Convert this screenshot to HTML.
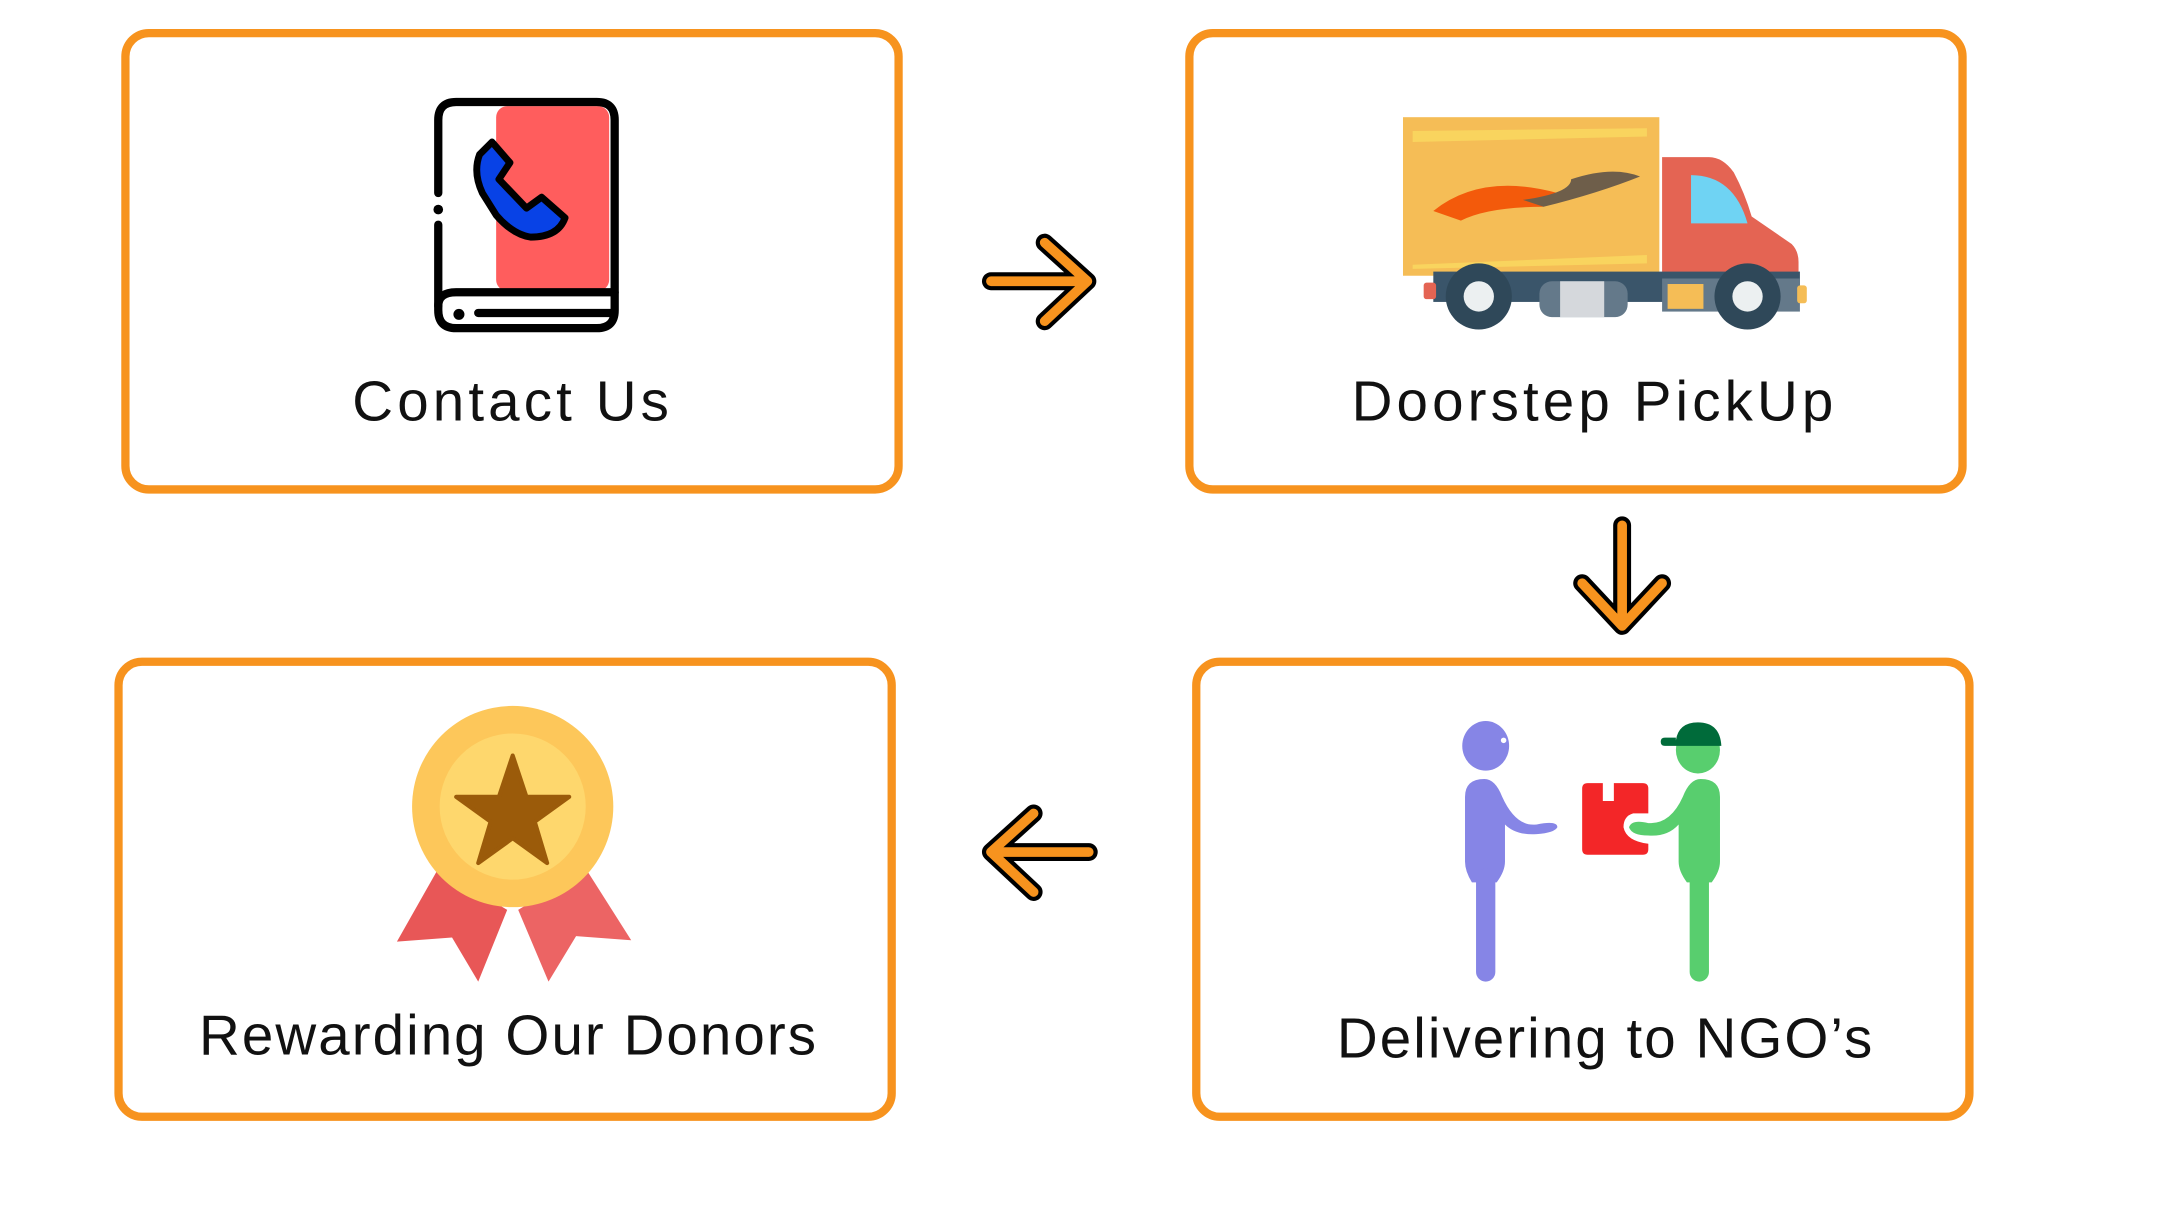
<!DOCTYPE html>
<html><head><meta charset="utf-8"><style>
html,body{margin:0;padding:0;background:#fff;}
svg{display:block;}
text{font-family:"Liberation Sans",sans-serif;fill:#111;}
</style></head><body>
<svg width="2161" height="1216" viewBox="0 0 1568 882" preserveAspectRatio="none" xmlns="http://www.w3.org/2000/svg">
<rect width="1568" height="882" fill="#fff"/>
<g fill="none" stroke="#F7931E" stroke-width="6">
<rect x="91" y="24" width="561" height="331" rx="17"/>
<rect x="863" y="24" width="561" height="331" rx="17"/>
<rect x="86" y="480" width="561" height="330" rx="17"/>
<rect x="868" y="480" width="561" height="330" rx="17"/>
</g>
<g font-size="41" text-anchor="middle">
<text x="372" y="305" letter-spacing="3">Contact Us</text>
<text x="1157" y="305" letter-spacing="3">Doorstep PickUp</text>
<text x="369" y="765" letter-spacing="1.5">Rewarding Our Donors</text>
<text x="1165" y="767" letter-spacing="1.5">Delivering to NGO’s</text>
</g>
<!-- arrows -->
<g fill="none" stroke-linecap="round" stroke-linejoin="round">
<g stroke="#000" stroke-width="13">
<path d="M719 204 H788 M758 176 L789 204 L758 233"/>
<path d="M1177 381 V452 M1148 423 L1177 454 L1206 423"/>
<path d="M790 618 H720 M750 590 L719 618 L750 647"/>
</g>
<g stroke="#F7931E" stroke-width="7">
<path d="M719 204 H788 M758 176 L789 204 L758 233"/>
<path d="M1177 381 V452 M1148 423 L1177 454 L1206 423"/>
<path d="M790 618 H720 M750 590 L719 618 L750 647"/>
</g>
</g>
<!-- phone book -->
<rect x="360" y="77" width="82" height="134" rx="8" fill="#FF5D5D"/>
<g fill="none" stroke="#000" stroke-width="6" stroke-linecap="round">
<path d="M318 140 V87 Q318 74 331 74 H433 Q446 74 446 87 V225 Q446 238 433 238 H331 Q318 238 318 225 V163"/>
<path d="M318 222 Q318 212 331 212 H446"/>
<path d="M347 227 H443"/>
</g>
<circle cx="318" cy="152" r="3.5" fill="#000"/>
<circle cx="333" cy="228" r="4" fill="#000"/>
<path d="M357 103 L370 118 L362 130 L382 151 L393 143 L410 158 Q405 172 385 172 Q372 170 360 156 L350 140 Q343 125 348 112 Z" fill="#0842E6" stroke="#000" stroke-width="5" stroke-linejoin="round"/>
<!-- truck -->
<rect x="1018" y="85" width="186" height="115" fill="#F5BD56"/>
<path d="M1025 95 L1195 93 L1195 99 L1025 103Z M1025 192 L1195 185 L1195 191 L1025 195Z" fill="#F9D45E"/>
<path d="M1040 153 Q1075 125 1130 140 Q1110 145 1120 150 Q1080 150 1060 160 Z" fill="#F35A0B"/>
<path d="M1105 145 Q1140 140 1140 130 Q1170 120 1190 128 Q1160 140 1120 150Z" fill="#6E5E4A"/>
<path d="M1206 114 H1240 Q1250 114 1258 125 Q1266 140 1271 157 L1300 177 Q1305 182 1305 190 V207 H1206 Z" fill="#E46453"/>
<path d="M1227 127 Q1258 127 1268 162 H1227 Z" fill="#6FD3F3"/>
<rect x="1040" y="197" width="266" height="22" fill="#3A556A"/>
<rect x="1206" y="202" width="100" height="24" fill="#64798A"/>
<rect x="1210" y="206" width="26" height="18" fill="#F5BD56"/>
<rect x="1033" y="205" width="9" height="12" rx="2" fill="#E46453"/>
<rect x="1304" y="207" width="7" height="13" rx="2" fill="#F5BD56"/>
<rect x="1117" y="204" width="64" height="26" rx="9" fill="#64798A"/>
<rect x="1132" y="204" width="32" height="26" fill="#D5D8DC"/>
<circle cx="1073" cy="215" r="24" fill="#2F4859"/><circle cx="1073" cy="215" r="11" fill="#ECF0F1"/>
<circle cx="1268" cy="215" r="24" fill="#2F4859"/><circle cx="1268" cy="215" r="11" fill="#ECF0F1"/>
<!-- medal -->
<path d="M318 630 L368 660 L347 712 L328 680 L288 683 Z" fill="#E85757"/>
<path d="M425 630 L458 682 L418 679 L398 712 L376 660 Z" fill="#EC6464"/>
<circle cx="372" cy="585" r="73" fill="#FDC75A"/>
<circle cx="372" cy="585" r="53" fill="#FED76D"/>
<path d="M372 548 L382 578 L413 578 L388 596 L397 626 L372 608 L347 626 L356 596 L331 578 L362 578 Z" fill="#9B5B0A" stroke="#9B5B0A" stroke-width="3" stroke-linejoin="round"/>
<!-- people -->
<g fill="#8685E6">
<ellipse cx="1078" cy="541" rx="17" ry="18"/>
<path d="M1063 578 Q1063 565 1077 565 Q1085 565 1090 578 Q1100 600 1115 598 Q1130 595 1130 600 Q1128 604 1115 605 Q1100 606 1092 598 V625 Q1092 632 1086 640 H1068 Q1063 632 1063 625 Z"/>
<rect x="1071" y="630" width="14" height="82" rx="7"/>
</g>
<path d="M1148 572 Q1148 568 1152 568 H1163 V581 H1171 V568 H1192 Q1196 568 1196 572 V590 H1185 Q1178 592 1178 600 Q1180 610 1196 612 V616 Q1196 620 1192 620 H1152 Q1148 620 1148 616 Z" fill="#F32628"/>
<g fill="#58CE6E">
<ellipse cx="1232" cy="544" rx="16" ry="17"/>
<path d="M1248 578 Q1248 565 1234 565 Q1226 565 1221 578 Q1212 598 1196 597 Q1184 594 1182 600 Q1184 606 1196 606 Q1210 607 1218 598 V625 Q1218 632 1224 640 H1242 Q1248 632 1248 625 Z"/>
<rect x="1226" y="630" width="14" height="82" rx="7"/>
</g>
<path d="M1216 537 Q1218 524 1232 524 Q1248 524 1249 541 H1208 Q1205 541 1205 538 Q1205 535 1208 535 H1216 Z" fill="#006B3A"/>
<circle cx="1091" cy="537" r="2" fill="#fff"/>
</svg>
</body></html>
